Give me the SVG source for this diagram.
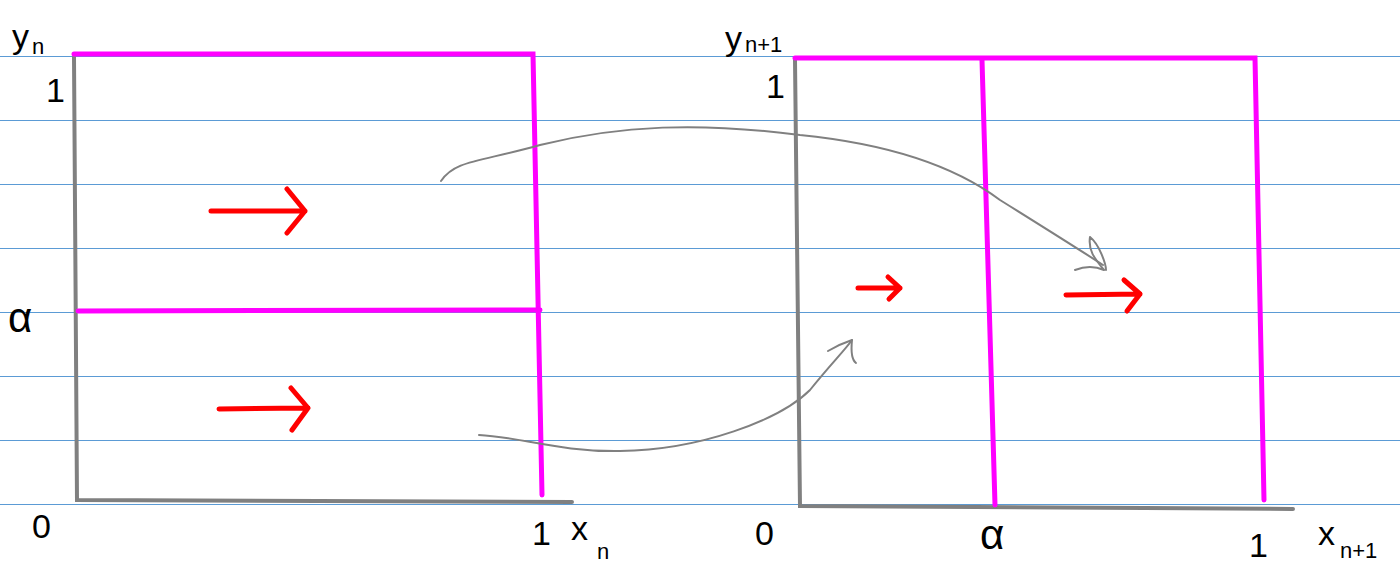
<svg xmlns="http://www.w3.org/2000/svg" width="1400" height="565" viewBox="0 0 1400 565">
<style>
.rule{stroke:#5b9bd5;stroke-width:1.2}
.axis{stroke:#808080;stroke-width:4;fill:none;stroke-linecap:round}
.mag{stroke:#ff00ff;stroke-width:5;fill:none;stroke-linecap:round}
.red{stroke:#ff0000;stroke-width:5;fill:none;stroke-linecap:round;stroke-linejoin:round}
.conn{stroke:#808080;stroke-width:2;fill:none;stroke-linecap:round;stroke-linejoin:round}
.t{font-family:"Liberation Sans",Arial,sans-serif;fill:#000}
.big{font-size:34px}
.alpha{font-size:42px}
.sub{font-size:22px}
</style>
<rect width="1400" height="565" fill="#fff"/>
<g id="rules">
<line class="rule" x1="0" y1="56.5" x2="1400" y2="56.5"/>
<line class="rule" x1="0" y1="120.5" x2="1400" y2="120.5"/>
<line class="rule" x1="0" y1="184.5" x2="1400" y2="184.5"/>
<line class="rule" x1="0" y1="248.5" x2="1400" y2="248.5"/>
<line class="rule" x1="0" y1="312.5" x2="1400" y2="312.5"/>
<line class="rule" x1="0" y1="376.5" x2="1400" y2="376.5"/>
<line class="rule" x1="0" y1="440.5" x2="1400" y2="440.5"/>
<line class="rule" x1="0" y1="504.5" x2="1400" y2="504.5"/>
</g>
<g id="left-panel">
<path class="axis" d="M74 57 L77 500 L572 502"/>
<path class="mag" d="M74 54 L533 54 L542 495"/>
<path class="mag" d="M78 311 L540 310"/>
</g>
<g id="right-panel">
<path class="axis" d="M795 60 L800 506 L1293 509"/>
<path class="mag" d="M795 58 L1255 58 L1264 500"/>
<path class="mag" d="M982 60 L995 505"/>
</g>
<g id="red-arrows">
<path class="red" d="M211 211 L305 211 M287 189 L305 211 L287 233"/>
<path class="red" d="M219 409 L308 408 M291 388 L308 408 L292 430"/>
<path class="red" d="M858 288 L900 288 M888 277 L900 288 L889 299"/>
<path class="red" d="M1066 295 L1140 294 M1124 280 L1140 294 L1127 311"/>
</g>
<g id="connectors">
<path class="conn" d="M441 181 C455 160 480 162 540 145 C620 125 700 122 800 135 C900 145 960 170 1000 200 C1040 225 1080 250 1103 265"/>
<path class="conn" d="M1090 237 C1100 245 1106 265 1106 270 M1090 237 C1088 250 1094 258 1104 270 M1104 270 C1095 266 1085 266 1075 270"/>
<path class="conn" d="M479 435 C520 437 560 452 620 451 C700 450 780 420 810 390 C830 365 845 350 852 340"/>
<path class="conn" d="M828 351 C838 345 846 342 852 340 C851 350 852 360 856 363"/>
</g>
<g id="labels">
<text class="t big" x="12" y="48">y</text><text class="t sub" x="32" y="54">n</text>
<text class="t big" x="46" y="102">1</text>
<text class="t alpha" x="8" y="332">α</text>
<text class="t big" x="32" y="538">0</text>
<text class="t big" x="532" y="545">1</text>
<text class="t big" x="571" y="540">x</text><text class="t sub" x="597" y="559">n</text>
<text class="t big" x="725" y="50">y</text><text class="t sub" x="745" y="52">n+1</text>
<text class="t big" x="766" y="98">1</text>
<text class="t big" x="755" y="545">0</text>
<text class="t alpha" x="980" y="549">α</text>
<text class="t big" x="1249" y="557">1</text>
<text class="t big" x="1318" y="545">x</text><text class="t sub" x="1340" y="558">n+1</text>
</g>
</svg>
